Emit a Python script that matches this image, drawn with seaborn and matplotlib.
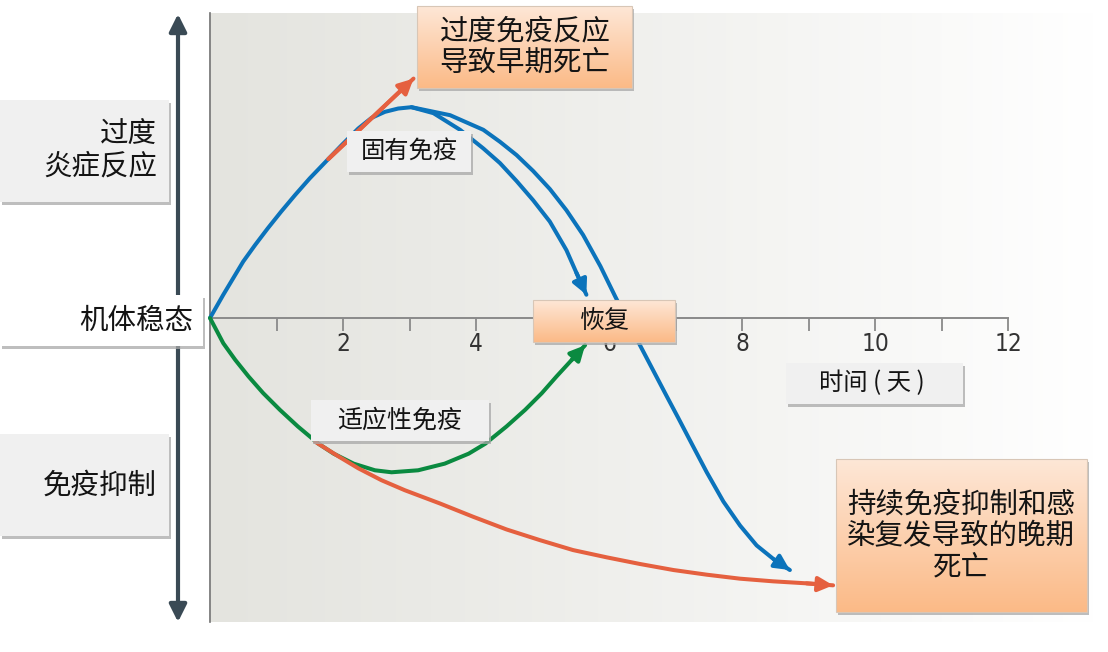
import numpy as np
import matplotlib
matplotlib.use('Agg')
import matplotlib.pyplot as plt
import seaborn as sns
from matplotlib.patches import Rectangle

# 曲线数据 (x: 天, y: 免疫反应, 0 = 机体稳态)
innate_x = [0.00, 0.20, 0.35, 0.50, 0.68, 0.87, 1.07, 1.28, 1.50, 1.74, 1.98, 2.13, 2.23, 2.43, 2.63, 2.83, 3.03]
innate_y = [0.00, 0.35, 0.60, 0.85, 1.10, 1.35, 1.60, 1.85, 2.10, 2.35, 2.60, 2.75, 2.85, 3.01, 3.10, 3.15, 3.17]

recover_x = [3.03, 3.36, 3.76, 4.11, 4.36, 4.61, 4.86, 5.11, 5.36, 5.51, 5.66]
recover_y = [3.17, 3.08, 2.83, 2.55, 2.33, 2.06, 1.77, 1.45, 1.02, 0.68, 0.35]

innate_late_x = [3.03, 3.61, 4.11, 4.36, 4.61, 4.86, 5.11, 5.36, 5.61, 5.87, 6.09,
                 6.44, 6.87, 7.04, 7.27, 7.47, 7.72, 7.97, 8.22, 8.48, 8.72]
innate_late_y = [3.17, 3.05, 2.83, 2.65, 2.45, 2.21, 1.94, 1.62, 1.25, 0.78, 0.33,
                 -0.36, -1.18, -1.50, -1.94, -2.32, -2.76, -3.12, -3.42, -3.63, -3.79]

adaptive_x = [0.00, 0.20, 0.38, 0.58, 0.80, 1.05, 1.32, 1.63, 1.86, 2.16, 2.48, 2.73,
              3.13, 3.53, 3.89, 4.14, 4.46, 4.74, 4.99, 5.21, 5.44, 5.64]
adaptive_y = [0.00, -0.38, -0.63, -0.88, -1.13, -1.38, -1.63, -1.89, -2.04, -2.19, -2.29, -2.32,
              -2.29, -2.19, -2.04, -1.89, -1.63, -1.38, -1.13, -0.88, -0.63, -0.41]

early_death_x = [1.78, 3.06]
early_death_y = [2.39, 3.60]

late_death_x = [1.58, 1.93, 2.23, 2.58, 2.93, 3.46, 3.96, 4.46, 4.96, 5.46, 5.97,
                6.47, 6.97, 7.47, 7.97, 8.47, 8.97, 9.37]
late_death_y = [-1.86, -2.08, -2.26, -2.44, -2.59, -2.79, -2.99, -3.18, -3.34, -3.49, -3.60,
                -3.70, -3.79, -3.86, -3.92, -3.96, -3.99, -4.02]

tick_pos = list(range(1, 13))
tick_labels = ['', '2', '', '4', '', '6', '', '8', '', '10', '', '12']

BLUE = '#0b73bb'
GREEN = '#0a8a40'
RED = '#e5603f'
CJK = ['Noto Sans CJK SC', 'DejaVu Sans']
S = 66.5  # 每天对应的像素

sns.set_theme(style='white')
plt.rcParams['font.family'] = CJK

fig = plt.figure(figsize=(11.08, 6.52), dpi=100)
ax = fig.add_axes([0, 0, 1, 1])


def px(x, y):
    return (x - 210) / S, (318 - y) / S


# 背景渐变
bx0, by0 = px(211, 13)
bx1, by1 = px(1095, 622)
t = np.linspace(0, 1, 256) ** 1.1
left_c = np.array([0.895, 0.895, 0.875])
grad = left_c[None, :] + (1 - left_c)[None, :] * t[:, None]
ax.imshow(grad[None, :, :], extent=[bx0, bx1, by1, by0], aspect='auto', zorder=0,
          interpolation='bilinear')

# 曲线
lw = 2.9
line_kw = dict(sort=False, estimator=None, lw=lw, ax=ax, zorder=3,
               solid_joinstyle='round')
sns.lineplot(x=innate_x + recover_x[1:], y=innate_y + recover_y[1:], color=BLUE, **line_kw)
sns.lineplot(x=innate_late_x, y=innate_late_y, color=BLUE, **line_kw)
sns.lineplot(x=adaptive_x, y=adaptive_y, color=GREEN, **line_kw)
sns.lineplot(x=early_death_x, y=early_death_y, color=RED, **line_kw)
sns.lineplot(x=late_death_x, y=late_death_y, color=RED, **line_kw)


def head(xs, ys, color):
    ax.annotate('', xy=(xs[-1], ys[-1]), xytext=(xs[-2], ys[-2]),
                arrowprops=dict(arrowstyle='-|>', color=color, lw=lw,
                                mutation_scale=22, shrinkA=0, shrinkB=0),
                zorder=3)


head(recover_x, recover_y, BLUE)
head(innate_late_x, innate_late_y, BLUE)
head(adaptive_x, adaptive_y, GREEN)
head(early_death_x, early_death_y, RED)
head(late_death_x, late_death_y, RED)

# 坐标轴
for side in ['top', 'right']:
    ax.spines[side].set_visible(False)
ax.spines['bottom'].set_position(('data', 0))
ax.spines['bottom'].set_bounds(0, 12)
ax.spines['bottom'].set_color('#8a8a8a')
ax.spines['bottom'].set_linewidth(1.4)
ax.spines['left'].set_position(('data', 0))
ax.spines['left'].set_bounds(by1, by0)
ax.spines['left'].set_color('#707070')
ax.spines['left'].set_linewidth(1.2)
ax.spines['bottom'].set_zorder(2)
ax.set_xticks(tick_pos)
ax.set_xticklabels(tick_labels, family=['DejaVu Sans'], fontstretch='condensed')
ax.tick_params(axis='x', direction='out', length=9, width=1.3, color='#8a8a8a',
               pad=1, labelsize=17.5, labelcolor='#333333', bottom=True)
ax.set_yticks([])

# 左侧双向箭头
ax.annotate('', xy=px(178, 14), xytext=px(178, 622),
            arrowprops=dict(arrowstyle='<|-|>', color='#3a4a55', lw=3,
                            mutation_scale=26, shrinkA=0, shrinkB=0))


def box(x0, y0, x1, y1, kind='gray'):
    l, top = px(x0, y0)
    r, bot = px(x1, y1)
    ax.add_patch(Rectangle((l + 0.035, bot - 0.05), r - l, top - bot,
                           color='#a8a8a8', alpha=0.75, zorder=5, lw=0))
    if kind == 'orange':
        g = np.linspace(0, 1, 64)[:, None]
        c0 = np.array([0.995, 0.905, 0.84])
        c1 = np.array([0.985, 0.73, 0.53])
        img = c0 + (c1 - c0) * g[:, :, None] * np.ones((1, 2, 1))
        ax.imshow(img, extent=[l, r, bot, top], aspect='auto', zorder=6,
                  interpolation='bilinear')
        ax.add_patch(Rectangle((l, bot), r - l, top - bot, fill=False,
                               ec='#d8c6b6', lw=0.8, zorder=6))
    else:
        fc = '#ffffff' if kind == 'white' else '#f0f0f0'
        ax.add_patch(Rectangle((l, bot), r - l, top - bot, fc=fc, lw=0, zorder=6))


def label(x, y, s, size, ha='center', ls=1.1):
    ax.text(*px(x, y), s, ha=ha, va='center', fontsize=size, color='#141414',
            linespacing=ls, zorder=7, family=CJK)


box(0, 100, 169, 202)
label(157, 151, '过度\n炎症反应', 20.5, ha='right', ls=1.05)
box(0, 295, 203, 346, 'white')
label(193, 321, '机体稳态', 20.5, ha='right')
box(0, 434, 169, 536)
label(157, 486, '免疫抑制', 20.5, ha='right')

box(417, 6, 632, 88, 'orange')
label(525, 47, '过度免疫反应\n导致早期死亡', 20.5, ls=1.05)
box(347, 131, 471, 172)
label(409, 152, '固有免疫', 17.5)
box(533, 300, 675, 342, 'orange')
label(604, 321, '恢复', 18)
box(786, 363, 963, 404)
label(872, 383, '时间 ( 天 )', 17.5)
box(311, 400, 489, 441)
label(400, 421, '适应性免疫', 18)
box(836, 459, 1087, 612, 'orange')
label(961, 536, '持续免疫抑制和感\n染复发导致的晚期\n死亡', 20.5, ls=1.08)

ax.set_xlim(-210 / S, 898 / S)
ax.set_ylim(-334 / S, 318 / S)
ax.set_facecolor('white')
fig.savefig('out.png', dpi=100, facecolor='white')
